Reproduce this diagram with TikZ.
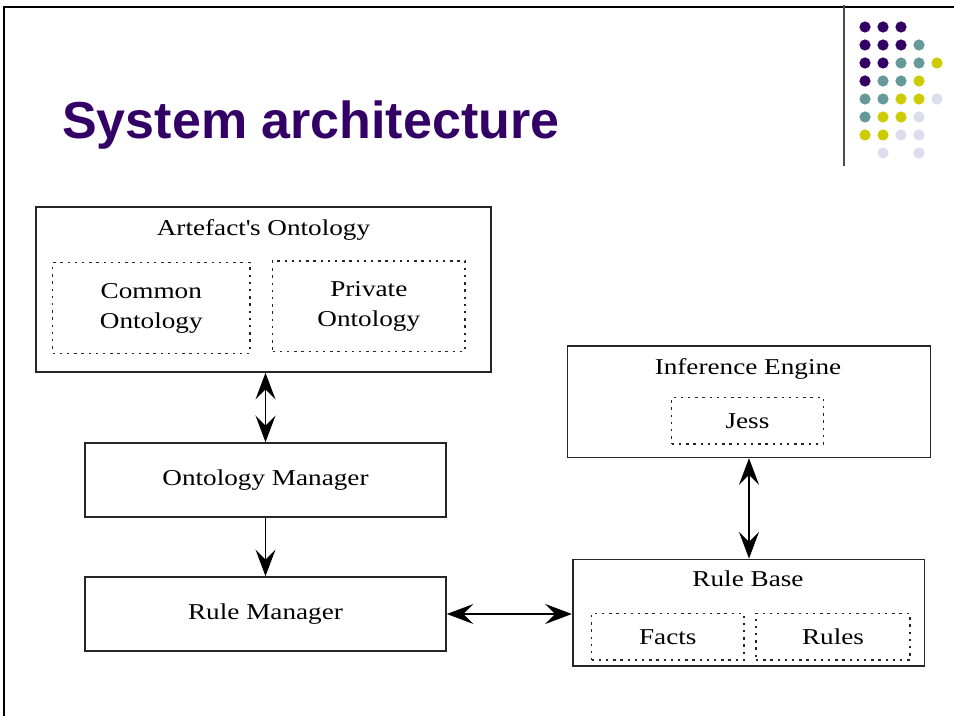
\documentclass[tikz,border=0pt]{standalone}
\usepackage{fontspec}
\setmainfont{Liberation Serif}[FakeStretch=1.2]
\newfontfamily\titlefont{Liberation Sans}
\usepackage{xcolor}
\usetikzlibrary{positioning,arrows.meta}

\definecolor{slidepurple}{HTML}{330066}
\definecolor{slideteal}{HTML}{669999}
\definecolor{slideyellow}{HTML}{CCCC00}
\definecolor{slidelilac}{HTML}{DDDDEE}

\begin{document}
\begin{tikzpicture}[x=0.75pt, y=-0.75pt,
    box/.style={
        rectangle,
        draw=black!85,
        line width=1.2pt,
        inner sep=0pt,
        align=center,
        font=\fontsize{17}{22.5}\selectfont
    },
    part/.style={
        box,
        line width=1.1pt,
        dash pattern=on 1.8pt off 3.6pt
    },
    heading/.style={anchor=base, inner sep=0pt, font=\fontsize{17}{22.5}\selectfont},
    arrow/.style={->, >={Stealth[length=20pt, width=15pt, inset=7.5pt]}, line width=1.1pt},
    twoway/.style={arrow, <->}]

    \useasboundingbox (0,0) rectangle (954,716);

    % Slide frame and dot pattern
    \draw[line width=1.5pt] (4,716) -- (4,7) -- (954,7);
    \draw[line width=1.2pt, black!70] (844,5) -- (844,166);
    \foreach \c/\r/\col in {1/1/slidepurple, 2/1/slidepurple, 3/1/slidepurple,
        1/2/slidepurple, 2/2/slidepurple, 3/2/slidepurple, 4/2/slideteal,
        1/3/slidepurple, 2/3/slidepurple, 3/3/slideteal, 4/3/slideteal, 5/3/slideyellow,
        1/4/slidepurple, 2/4/slideteal, 3/4/slideteal, 4/4/slideyellow,
        1/5/slideteal, 2/5/slideteal, 3/5/slideyellow, 4/5/slideyellow, 5/5/slidelilac,
        1/6/slideteal, 2/6/slideyellow, 3/6/slideyellow, 4/6/slidelilac,
        1/7/slideyellow, 2/7/slideyellow, 3/7/slidelilac, 4/7/slidelilac,
        2/8/slidelilac, 4/8/slidelilac}
        \fill[\col] (847+18*\c, 9+18*\r) circle (4.2pt);

    % Title
    \node[anchor=base west, inner sep=0pt, text=slidepurple,
        font=\titlefont\bfseries\fontsize{39}{45}\selectfont] (title) at (62,139) {System architecture};

    % Ontology side
    \node[box, minimum width=341.25pt, minimum height=123.75pt] (artefact) at (263.5,289.5) {};
    \node[heading] (artefacttitle) at (263.5,236) {Artefact\textquotesingle s Ontology};
    \node[part, minimum width=148pt, minimum height=68pt] (common) at (151.3,308) {Common\\Ontology};
    \node[part, minimum width=144.2pt, minimum height=68pt] (private) at (368.8,306.3) {Private\\Ontology};

    \node[box, minimum width=270.75pt, minimum height=55.5pt] (ontmgr) at (265.5,480) {Ontology Manager};
    \node[box, minimum width=270.75pt, minimum height=55.5pt] (rulemgr) at (265.5,614) {Rule Manager};

    % Reasoning side
    \node[box, minimum width=272.5pt, minimum height=83.5pt] (inference) at (749,401.7) {};
    \node[heading] (inferencetitle) at (748,374.5) {Inference Engine};
    \node[part, minimum width=113.7pt, minimum height=35pt] (jess) at (747.5,420.7) {Jess};

    \node[box, minimum width=263.7pt, minimum height=80pt] (rulebase) at (748.5,612.7) {};
    \node[heading] (rulebasetitle) at (748,586.5) {Rule Base};
    \node[part, minimum width=114.2pt, minimum height=35pt] (facts) at (667.8,636.7) {Facts};
    \node[part, minimum width=115.5pt, minimum height=35pt] (rules) at (833,636.7) {Rules};

    % Connections
    \draw[twoway] (ontmgr.north) -- (ontmgr.north |- artefact.south);
    \draw[arrow] (ontmgr.south) -- (rulemgr.north);
    \draw[twoway] (rulemgr.east) -- (rulebase.west |- rulemgr.east);
    \draw[twoway] (rulebase.north -| inference.south) -- (inference.south);
\end{tikzpicture}
\end{document}
